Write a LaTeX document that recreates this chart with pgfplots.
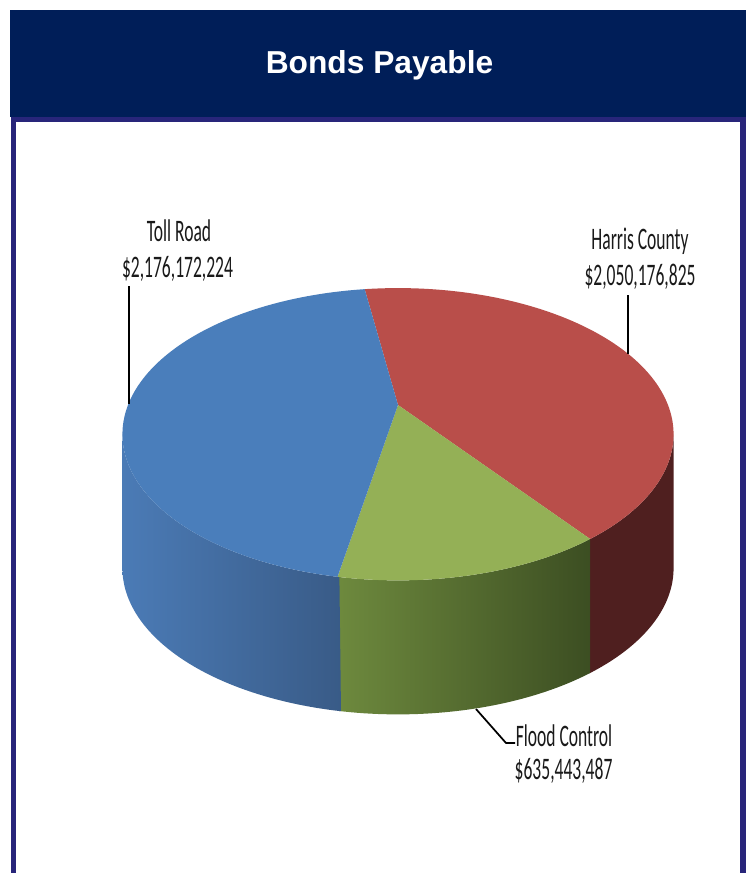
\documentclass[border=0pt]{standalone}
\usepackage{fontspec}
\setmainfont{Carlito}
\newfontfamily\titlefont{Liberation Sans}
\usepackage{graphicx}
\usepackage{pgfplots}
\usepackage{pgfplotstable}
\pgfplotsset{compat=1.18}

\definecolor{hdr}{HTML}{001E58}
\definecolor{brd}{HTML}{28257A}
\definecolor{blueT}{HTML}{4A7EBB}
\definecolor{redT}{HTML}{B94E4A}
\definecolor{greenT}{HTML}{94B056}
\definecolor{blueL}{HTML}{4B7BB6}
\definecolor{blueR}{HTML}{395B87}
\definecolor{greenL}{HTML}{6E8A3E}
\definecolor{greenR}{HTML}{3C4E22}
\definecolor{redS}{HTML}{4F1F1F}
\definecolor{labtxt}{HTML}{1A1A1A}

% values in millions of dollars
\pgfplotstableread{
name value
TollRoad 2176.172224
HarrisCounty 2050.176825
FloodControl 635.443487
}\bonds

\pgfplotstablegetelem{0}{value}\of\bonds \let\vT\pgfplotsretval
\pgfplotstablegetelem{1}{value}\of\bonds \let\vH\pgfplotsretval
\pgfplotstablegetelem{2}{value}\of\bonds \let\vF\pgfplotsretval
\pgfmathsetmacro\tot{\vT+\vH+\vF}
\pgfmathsetmacro\aH{\vH/\tot*360}
\pgfmathsetmacro\aF{\vF/\tot*360}
\pgfmathsetmacro\thTH{98.5}              % Toll / Harris boundary
\pgfmathsetmacro\thHF{\thTH-\aH}         % Harris / Flood boundary
\pgfmathsetmacro\thFT{\thHF-\aF}         % Flood / Toll boundary
\pgfmathsetmacro\thTlo{\thTH-360}
\pgfmathsetmacro\thFTp{\thFT+360.6}
\pgfmathsetmacro\thFTm{\thFT-0.3}
\pgfmathsetmacro\thHFm{\thHF-0.6}

\newcommand{\lab}[1]{\scalebox{0.56}[1]{\fontsize{23.5pt}{27pt}\selectfont #1}}

\begin{document}
\begin{tikzpicture}
\begin{axis}[
  width=565.5pt, height=654.75pt, scale only axis,
  xmin=0, xmax=754, ymin=0, ymax=873, y dir=reverse,
  axis lines=none, clip=false,
  declare function={
    PX(\q)=398+270*cos(\q)/(1+0.2*sin(\q));
    PY(\q)=405-140.3*sin(\q)/(1+0.2*sin(\q));
    TH(\t,\a,\b)=(\t<=1)*(\a+\t*(\b-\a))+(\t>1)*(\b-(\t-1)*(\b-\a));
  },
]
\path (axis cs:0,0) rectangle (axis cs:754,873);
% frame
\fill[white] (axis cs:0,0) rectangle (axis cs:754,873);
\fill[brd] (axis cs:11,110) rectangle (axis cs:16,873);
\fill[brd] (axis cs:740,110) rectangle (axis cs:746,873);
\fill[hdr] (axis cs:10,10) rectangle (axis cs:746,117);
\fill[brd] (axis cs:11,117) rectangle (axis cs:746,122);
\node[anchor=base, text=white, font=\titlefont\bfseries\fontsize{23.8pt}{28pt}\selectfont]
  at (axis cs:379.5,74) {Bonds Payable};

% sides
\addplot[draw=none, fill=redS, samples at={0,0.01,...,1,1.00001,1.01,1.02,...,2}]
  ({PX(TH(x,\thHFm,-11.54))}, {PY(TH(x,\thHFm,-11.54))+(x>1)*134}) -- cycle;
\addplot[draw=none, left color=greenL, right color=greenR, samples at={0,0.01,...,1,1.00001,1.01,1.02,...,2}]
  ({PX(TH(x,\thFTm,\thHF))}, {PY(TH(x,\thFTm,\thHF))+(x>1)*134}) -- cycle;
\addplot[draw=none, left color=blueL, right color=blueR, samples at={0,0.005,...,1,1.00001,1.005,1.01,...,2}]
  ({PX(TH(x,191.54,\thFTp))}, {PY(TH(x,191.54,\thFTp))+(x>1)*134}) -- cycle;

% top faces
\addplot[draw=none, fill=redT, domain=\thHF:\thTH, samples=120]
  ({PX(x)}, {PY(x)}) -- (axis cs:398,405) -- cycle;
\addplot[draw=none, fill=greenT, domain=\thFT:\thHF, samples=60]
  ({PX(x)}, {PY(x)}) -- (axis cs:398,405) -- cycle;
\addplot[draw=none, fill=blueT, domain=\thTlo:\thFT, samples=120]
  ({PX(x)}, {PY(x)}) -- (axis cs:398,405) -- cycle;

% leader lines
\draw[black, line width=1.3pt] (axis cs:129,286) -- (axis cs:129,404);
\draw[black, line width=1.3pt] (axis cs:628,295) -- (axis cs:628,354);
\draw[black, line width=1.3pt] (axis cs:476,709) -- (axis cs:506,743) -- (axis cs:515,743);

% labels
\node[anchor=base, text=labtxt, inner sep=0pt] at (axis cs:179,242) {\lab{Toll Road}};
\node[anchor=base, text=labtxt, inner sep=0pt] at (axis cs:177.5,277) {\lab{\$2,176,172,224}};
\node[anchor=base, text=labtxt, inner sep=0pt] at (axis cs:640,250) {\lab{Harris County}};
\node[anchor=base, text=labtxt, inner sep=0pt] at (axis cs:640,286) {\lab{\$2,050,176,825}};
\node[anchor=base, text=labtxt, inner sep=0pt] at (axis cs:564,746) {\lab{Flood Control}};
\node[anchor=base, text=labtxt, inner sep=0pt] at (axis cs:563.5,779) {\lab{\$635,443,487}};
\end{axis}
\end{tikzpicture}
\end{document}
